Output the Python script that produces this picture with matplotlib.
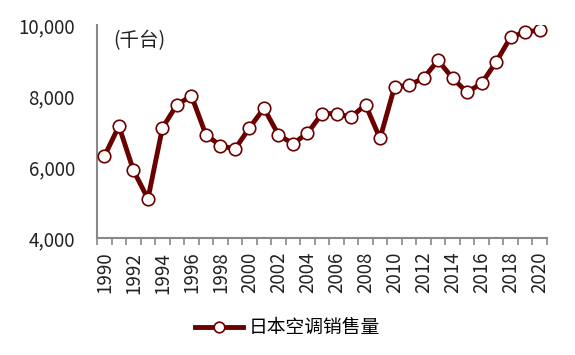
import matplotlib.pyplot as plt
from matplotlib.ticker import FixedLocator, FuncFormatter

plt.rcParams['font.family'] = ['Noto Sans CJK SC', 'DejaVu Sans']

years = list(range(1990, 2021))
sales = [6300, 7150, 5900, 5100, 7100, 7750, 8000, 6900, 6600, 6500,
         7100, 7650, 6900, 6650, 6950, 7500, 7500, 7400, 7750, 6800,
         8250, 8300, 8500, 9000, 8500, 8100, 8350, 8950, 9650, 9800,
         9850]
series_name = "日本空调销售量"
unit_label = "(千台)"

color = "#6b0000"
x = list(range(len(years)))

fig = plt.figure(figsize=(5.75, 3.55), dpi=100)
ax = fig.add_axes([0.169, 0.33, 0.782, 0.60])

ax.plot(x, sales, color=color, linewidth=3.5, marker="o",
        markersize=9, markerfacecolor="white", markeredgecolor=color,
        markeredgewidth=1.2, label=series_name, zorder=3)

ax.set_xlim(-0.5, len(years) - 0.5)
ax.set_ylim(4000, 10000)
ax.set_yticks([4000, 6000, 8000, 10000])
ax.yaxis.set_major_formatter(FuncFormatter(lambda v, p: f"{int(v):,}"))
ax.tick_params(axis="y", length=0, labelsize=13.5, pad=16, colors="#222222")

ax.set_xticks(x[::2])
ax.set_xticklabels([str(y) for y in years[::2]], rotation=90)
ax.xaxis.set_minor_locator(FixedLocator([i - 0.5 for i in range(len(years) + 1)]))
ax.tick_params(axis="x", which="major", length=0, labelsize=13.5, pad=10,
               colors="#222222")
ax.tick_params(axis="x", which="minor", length=5, width=1.2, color="#888888")

for side in ["top", "right"]:
    ax.spines[side].set_visible(False)
for side in ["left", "bottom"]:
    ax.spines[side].set_color("#888888")
    ax.spines[side].set_linewidth(1.5)

ax.text(0.036, 0.975, unit_label, transform=ax.transAxes, fontsize=14,
        va="top", ha="left", color="#222222")

fig.legend(loc="lower center", bbox_to_anchor=(0.5, 0.0), frameon=False,
           fontsize=13.5, handlelength=2.6, handletextpad=0.3, markerscale=0.85)

fig.savefig("out.png", dpi=100)
